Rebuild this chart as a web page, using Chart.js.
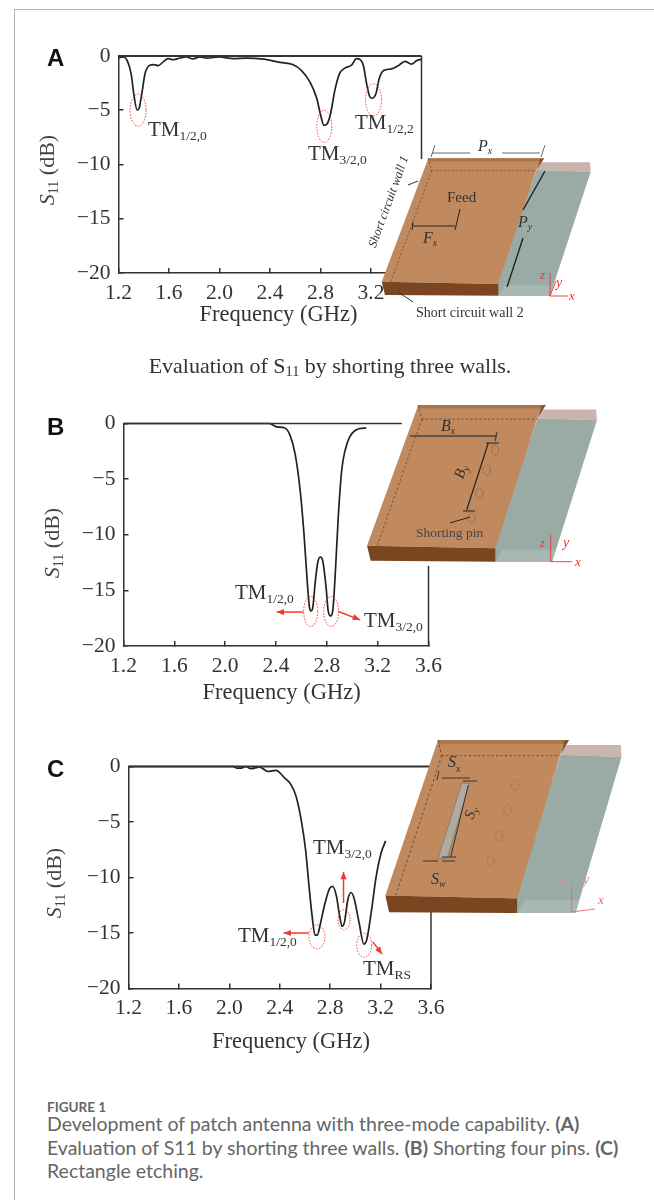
<!DOCTYPE html>
<html>
<head>
<meta charset="utf-8">
<title>Figure 1</title>
<script src="https://cdn.jsdelivr.net/npm/chart.js@4/dist/chart.umd.min.js"></script>
<style>
    html, body { margin: 0; padding: 0; background: #fff; }
    #page { position: relative; width: 654px; height: 1200px; overflow: hidden; font-family: "Liberation Serif", serif; color: #333; }
    #page canvas { position: absolute; left: 0; }
    #rule { position: absolute; left: 14px; right: 0; top: 9px; height: 1px; background: #b4b4b4; }
    #ruleLeft { position: absolute; left: 14px; top: 9px; bottom: 0; width: 1px; background: #b4b4b4; }
    .letter { position: absolute; font: bold 24px "Liberation Sans", sans-serif; color: #111; left: 47px; }
    .tm { position: absolute; font-size: 21px; line-height: 21px; white-space: nowrap; z-index: 2; }
    .tm sub, .ytitle sub { font-size: 0.64em; vertical-align: -0.3em; line-height: 0; }
    .ytitle { position: absolute; font-size: 22px; line-height: 22px; white-space: nowrap; transform: translate(-50%, -50%) rotate(-90deg); color: #444; }
    .ytitle i { font-style: italic; }
    #subcaption { position: absolute; left: 0; width: 660px; top: 354px; text-align: center; font-size: 22px; line-height: 24px; }
    #subcaption sub { font-size: 0.65em; vertical-align: -0.2em; line-height: 0; }
    #antenna { position: absolute; left: 0; top: 0; z-index: 3; }
    #antenna text { font-family: "Liberation Serif", serif; fill: #333; }
    #figlabel { position: absolute; left: 47px; top: 1099px; font: bold 13.5px Lato, sans-serif; color: #666; }
    #caption { position: absolute; left: 47px; top: 1112px; width: 600px; font: 19.5px/23.7px Lato, sans-serif; color: #666; }
</style>
</head>
<body>
<div id="page">
    <div id="rule"></div>
    <div id="ruleLeft"></div>

    <canvas id="chartA" width="460" height="310" style="top:30px"></canvas>
    <canvas id="chartB" width="460" height="320" style="top:390px"></canvas>
    <canvas id="chartC" width="460" height="320" style="top:740px"></canvas>

    <div class="letter" style="top:44px">A</div>
    <div class="letter" style="top:413px">B</div>
    <div class="letter" style="top:755px">C</div>

    <div class="ytitle" style="left:47px;top:170px"><i>S</i><sub>11</sub> (dB)</div>
    <div class="ytitle" style="left:52px;top:543px"><i>S</i><sub>11</sub> (dB)</div>
    <div class="ytitle" style="left:54px;top:883px"><i>S</i><sub>11</sub> (dB)</div>

    <div class="tm" style="left:148px;top:119px">TM<sub>1/2,0</sub></div>
    <div class="tm" style="left:308px;top:143px">TM<sub>3/2,0</sub></div>
    <div class="tm" style="left:355px;top:112px">TM<sub>1/2,2</sub></div>
    <div class="tm" style="left:235px;top:582px">TM<sub>1/2,0</sub></div>
    <div class="tm" style="left:364px;top:610px">TM<sub>3/2,0</sub></div>
    <div class="tm" style="left:313px;top:837px">TM<sub>3/2,0</sub></div>
    <div class="tm" style="left:238px;top:925px">TM<sub>1/2,0</sub></div>
    <div class="tm" style="left:363px;top:958px">TM<sub>RS</sub></div>

    <div id="subcaption">Evaluation of S<sub>11</sub> by shorting three walls.</div>

    <!-- antenna sketches sit on top of the charts, same as the figure -->
    <svg id="antenna" width="654" height="1200" viewBox="0 0 654 1200">
        <defs>
            <g id="patch">
                <polygon points="113.4,4 161.7,4 162.4,13.4 108.4,11.7" fill="#c9b5ad"/>
                <polygon points="108.4,11.7 162.4,13.4 121.7,137.4 70,137.4 68,125" fill="#9aaba5"/>
                <polygon points="76.7,127 125,127 121.7,137.4 70,137.4" fill="#a6b8b1"/>
                <polygon points="0,0 112,0 70,125.7 -46.6,123.4" fill="#c08a5e"/>
                <polygon points="0,0 112,0 112,3 0,3" fill="#a8744a"/>
                <polygon points="112,0 116,0 108.4,11.7" fill="#7f5230"/>
                <polygon points="-46.6,123.4 70,125.7 70,137.4 -43.3,136.7" fill="#7a4620"/>
                <path d="M3.3,12.4 L108,12.4 M3.3,12.4 L-38,125 M0,0 L3.3,12.4" fill="none" stroke="#5a4030" stroke-width="0.7" stroke-dasharray="2 2"/>
            </g>
        </defs>

        <!-- A -->
        <use href="#patch" transform="translate(428.3,158.3)"/>
        <path d="M431,157 L435,145 M541,157 L545,145 M432,153 L470,153 M502,153 L540,153" stroke="#444" stroke-width="0.8" fill="none"/>
        <text x="478" y="151" font-size="16" font-style="italic">P<tspan font-size="10" dy="3">x</tspan></text>
        <text x="447" y="202" font-size="15">Feed</text>
        <path d="M413,226 L455,226 M460,209 L455,230 M413,222 L412,230" stroke="#222" stroke-width="1" fill="none"/>
        <text x="423" y="243" font-size="16" font-style="italic">F<tspan font-size="10" dy="3">x</tspan></text>
        <path d="M545,171 L523,210 M523,238 L507,287" stroke="#222" stroke-width="1.4" fill="none"/>
        <text x="518" y="227" font-size="16" font-style="italic">P<tspan font-size="10" dy="3">y</tspan></text>
        <text x="392" y="203" font-size="12.5" font-style="italic" text-anchor="middle" transform="rotate(-70 392 203)">Short circuit wall 1</text>
        <path d="M408,185 L418,181" stroke="#333" stroke-width="1"/>
        <path d="M398,292 L413,302" stroke="#333" stroke-width="1"/>
        <text x="416" y="317" font-size="14" fill="#444">Short circuit wall 2</text>
        <path d="M550,273 L550,296 M550,296 L568,296 M550,296 L556,281" stroke="#e33" stroke-width="0.9" fill="none"/>
        <text x="540" y="279" font-size="13" font-style="italic" style="fill:#e33">z</text>
        <text x="556" y="287" font-size="14" font-style="italic" style="fill:#e33">y</text>
        <text x="569" y="300" font-size="13" font-style="italic" style="fill:#e33">x</text>

        <!-- B -->
        <use href="#patch" transform="translate(418.3,405) scale(1.1,1.14)"/>
        <text x="441" y="431" font-size="16" font-style="italic">B<tspan font-size="10" dy="3">x</tspan></text>
        <path d="M410,436 L497,436 M497,432 L495,441" stroke="#444" stroke-width="1.3" fill="none"/>
        <path d="M488.3,443 L466.7,510 M486,443 L499,443 M463,511 L475,511" stroke="#222" stroke-width="1.2" fill="none"/>
        <text x="465" y="473" font-size="15" font-style="italic" text-anchor="middle" transform="rotate(-72 465 473)">B<tspan font-size="10" dy="3">y</tspan></text>
        <g fill="none" stroke="#7a5a40" stroke-width="0.8" stroke-dasharray="1.5 1">
            <ellipse cx="495" cy="450" rx="3.5" ry="5"/>
            <ellipse cx="486.7" cy="470" rx="3.5" ry="5"/>
            <ellipse cx="479.3" cy="493" rx="3.5" ry="5"/>
            <ellipse cx="471.7" cy="518" rx="3.5" ry="5"/>
        </g>
        <path d="M470,517 L450,523" stroke="#222" stroke-width="1"/>
        <text x="416" y="537" font-size="13.5" style="fill:#445">Shorting pin</text>
        <path d="M550.7,535 L550.7,561.7 M550.7,561.7 L572,561.7" stroke="#e33" stroke-width="0.9" fill="none"/>
        <text x="540" y="547" font-size="13" font-style="italic" style="fill:#e33">z</text>
        <text x="563" y="547" font-size="14" font-style="italic" style="fill:#e33">y</text>
        <text x="575" y="566" font-size="13" font-style="italic" style="fill:#e33">x</text>

        <!-- C -->
        <use href="#patch" transform="translate(438,740) scale(1.13,1.26)"/>
        <text x="448" y="767" font-size="16" font-style="italic">S<tspan font-size="10" dy="5">x</tspan></text>
        <path d="M441.7,778 L470,778 M439,771 L437,780 M463,781 L477,781" stroke="#333" stroke-width="1" fill="none"/>
        <polygon points="461.7,783.3 469.3,783.3 447.3,858.3 438.3,858.3" fill="#b0aaa0" stroke="#666" stroke-width="0.5"/>
        <path d="M468.3,785 L450.7,856.7 M442,857 L456,857" stroke="#333" stroke-width="1" fill="none"/>
        <text x="475" y="814" font-size="15" font-style="italic" text-anchor="middle" transform="rotate(-72 475 814)">S<tspan font-size="10" dy="3">y</tspan></text>
        <path d="M423,861 L438,861 M442,861 L455,861" stroke="#333" stroke-width="1" fill="none"/>
        <text x="431" y="884" font-size="16" font-style="italic">S<tspan font-size="10" dy="3">w</tspan></text>
        <g fill="none" stroke="#8a6a50" stroke-width="0.8" stroke-dasharray="1.5 1">
            <ellipse cx="515" cy="785" rx="3.5" ry="5"/>
            <ellipse cx="507.3" cy="810" rx="3.5" ry="5"/>
            <ellipse cx="499.3" cy="836" rx="3.5" ry="5"/>
            <ellipse cx="490.7" cy="860.7" rx="3.5" ry="5"/>
        </g>
        <path d="M571.7,886 L571.7,912 M571.7,912 L595,909" stroke="#e66" stroke-width="0.9" fill="none"/>
        <text x="560" y="886" font-size="13" font-style="italic" style="fill:#e88">z</text>
        <text x="583" y="884" font-size="14" font-style="italic" style="fill:#e88">y</text>
        <text x="598" y="904" font-size="13" font-style="italic" style="fill:#e66">x</text>
    </svg>

    <div id="figlabel">FIGURE 1</div>
    <div id="caption">Development of patch antenna with three-mode capability. <b>(A)</b><br>Evaluation of S11 by shorting three walls. <b>(B)</b> Shorting four pins. <b>(C)</b><br>Rectangle etching.</div>
</div>

<script>
// Tick values. Panel A's 3.6 label is hidden behind the sketch in the figure
const freqTicks = [1.2, 1.6, 2.0, 2.4, 2.8, 3.2, 3.6];
const freqTicksA = [1.2, 1.6, 2.0, 2.4, 2.8, 3.2];
const dbTicks = [-20, -15, -10, -5, 0];

// Panel A
const freqA = [1.2, 1.237, 1.27, 1.3, 1.324, 1.348, 1.364, 1.385, 1.41, 1.443, 1.48, 1.514, 1.554, 1.593, 1.633, 1.67, 1.74, 1.79, 1.844, 1.9, 2.0, 2.11, 2.21, 2.35, 2.48, 2.58, 2.65, 2.716, 2.77, 2.8, 2.827, 2.85, 2.88, 2.914, 2.95, 2.99, 3.046, 3.085, 3.11, 3.14, 3.165, 3.19, 3.21, 3.24, 3.265, 3.3, 3.36, 3.415, 3.47, 3.52, 3.56, 3.6];
const s11A = [-0.15, -0.1, -0.45, -1.65, -3.75, -5.0, -4.8, -3.45, -1.65, -0.9, -0.8, -0.9, -0.55, -0.25, -0.35, -0.25, -0.1, -0.27, -0.1, -0.2, -0.1, -0.25, -0.2, -0.3, -0.6, -0.8, -1.35, -2.4, -3.9, -5.4, -6.4, -6.3, -5.3, -3.15, -1.65, -1.15, -0.85, -0.25, -0.3, -0.9, -2.55, -3.75, -3.9, -3.45, -2.1, -1.35, -1.2, -0.9, -0.5, -0.75, -0.45, -0.3];

// Panel B
const freqB = [1.2, 2.348, 2.405, 2.47, 2.51, 2.55, 2.59, 2.62, 2.647, 2.663, 2.676, 2.69, 2.71, 2.73, 2.75, 2.767, 2.794, 2.81, 2.83, 2.847, 2.865, 2.89, 2.917, 2.944, 2.98, 3.02, 3.06, 3.11];
const s11B = [0, 0, -0.3, -0.4, -1.05, -2.7, -6.0, -9.9, -14.4, -16.5, -16.85, -16.5, -14.1, -12.4, -12, -12.3, -14.7, -16.8, -17.3, -16.8, -13.8, -8.4, -4.2, -2.4, -1.2, -0.65, -0.45, -0.4];

// Panel C
const freqC = [1.2, 2.03, 2.06, 2.095, 2.13, 2.17, 2.24, 2.306, 2.37, 2.44, 2.49, 2.53, 2.57, 2.605, 2.63, 2.657, 2.68, 2.697, 2.72, 2.755, 2.795, 2.82, 2.85, 2.874, 2.895, 2.914, 2.94, 2.966, 2.99, 3.03, 3.067, 3.09, 3.125, 3.165, 3.204, 3.24];
const s11C = [0, 0, -0.15, -0.15, 0, -0.2, -0.05, -0.45, -0.35, -1.05, -1.65, -2.7, -4.8, -7.5, -10.5, -13.5, -15.2, -15.2, -14.3, -12.5, -11.0, -10.8, -11.7, -13.4, -14.4, -14, -12, -11.35, -11.9, -14.1, -16, -15.6, -13.2, -9.9, -7.8, -6.7];

// Red markers: [freq, dB, radius x px, radius y px]
const ringsA = [[1.355, -5, 8, 16], [2.83, -6.5, 7.5, 16], [3.22, -4.05, 8, 16]];
const ringsB = [[2.673, -16.9, 7, 15], [2.834, -16.9, 7.5, 15]];
const ringsC = [[2.695, -15.35, 8, 12], [2.91, -13.8, 6, 10], [3.07, -16.1, 7.5, 12]];

// Red arrows: [freq from, dB from, freq to, dB to]
const arrowsB = [[2.616, -16.95, 2.405, -16.95], [2.891, -16.9, 3.062, -17.65]];
const arrowsC = [[2.63, -15, 2.43, -15], [2.906, -12.3, 2.906, -9.5], [3.138, -15.8, 3.212, -16.9]];

const axisColor = '#333';
const tickFont = { family: '"Liberation Serif", serif', size: 21.5 };

// Top and right edges and the red markers. Chart.js has no closed-box option
// and the edges stop where the sketch covers them.
const panelExtras = {
    id: 'panelExtras',
    afterDatasetsDraw(chart, args, opts) {
        const { ctx, chartArea, scales } = chart;
        const x = scales.x, y = scales.y;

        ctx.save();
        ctx.strokeStyle = axisColor;
        ctx.lineWidth = opts.topWidth;
        ctx.beginPath();
        ctx.moveTo(chartArea.left, chartArea.top);
        ctx.lineTo(x.getPixelForValue(opts.topTo), chartArea.top);
        ctx.stroke();

        ctx.lineWidth = 1.5;
        ctx.beginPath();
        ctx.moveTo(chartArea.right, y.getPixelForValue(opts.rightSpan[0]));
        ctx.lineTo(chartArea.right, y.getPixelForValue(opts.rightSpan[1]));
        ctx.stroke();

        ctx.strokeStyle = '#ee3b30';
        ctx.lineWidth = 1;
        ctx.setLineDash([1.5, 1.5]);
        opts.rings.forEach(r => {
            ctx.beginPath();
            ctx.ellipse(x.getPixelForValue(r[0]), y.getPixelForValue(r[1]), r[2], r[3], 0, 0, Math.PI * 2);
            ctx.stroke();
        });
        ctx.setLineDash([]);

        ctx.strokeStyle = ctx.fillStyle = '#ee3b30';
        ctx.lineWidth = 1.5;
        opts.arrows.forEach(a => {
            const x1 = x.getPixelForValue(a[0]), y1 = y.getPixelForValue(a[1]);
            const x2 = x.getPixelForValue(a[2]), y2 = y.getPixelForValue(a[3]);
            const ang = Math.atan2(y2 - y1, x2 - x1);
            ctx.beginPath();
            ctx.moveTo(x1, y1);
            ctx.lineTo(x2, y2);
            ctx.stroke();
            ctx.beginPath();
            ctx.moveTo(x2, y2);
            ctx.lineTo(x2 - 8 * Math.cos(ang - 0.4), y2 - 8 * Math.sin(ang - 0.4));
            ctx.lineTo(x2 - 8 * Math.cos(ang + 0.4), y2 - 8 * Math.sin(ang + 0.4));
            ctx.closePath();
            ctx.fill();
        });
        ctx.restore();
    }
};

function makePanel(id, freq, s11, p) {
    const canvas = document.getElementById(id);
    return new Chart(canvas, {
        type: 'line',
        plugins: [panelExtras],
        data: {
            datasets: [{
                data: freq.map((f, i) => ({ x: f, y: s11[i] })),
                borderColor: '#222',
                borderWidth: 1.7,
                pointRadius: 0,
                cubicInterpolationMode: 'monotone',
                clip: false
            }]
        },
        options: {
            responsive: false,
            animation: false,
            events: [],
            layout: {
                autoPadding: false,
                padding: { top: p.top, right: canvas.width - p.right, left: 0, bottom: 0 }
            },
            plugins: {
                legend: { display: false },
                tooltip: { enabled: false },
                panelExtras: { topTo: p.topTo, topWidth: p.topWidth, rightSpan: p.rightSpan, rings: p.rings, arrows: p.arrows }
            },
            scales: {
                x: {
                    type: 'linear',
                    min: 1.2,
                    max: 3.6,
                    afterFit: s => { s.height = canvas.height - p.bottom; },
                    afterBuildTicks: s => { s.ticks = p.xTicks.map(v => ({ value: v })); },
                    border: { color: axisColor, width: 1.5 },
                    grid: { drawOnChartArea: false, color: axisColor, tickLength: -5, lineWidth: 1.5 },
                    ticks: { color: '#333', font: tickFont, padding: p.xPad, maxRotation: 0, callback: v => v.toFixed(1) },
                    title: {
                        display: true,
                        text: p.xTitle,
                        color: '#333',
                        font: { family: '"Liberation Serif", serif', size: 22.5 },
                        padding: { top: 0, bottom: p.titlePad }
                    }
                },
                y: {
                    min: -20,
                    max: 0,
                    afterFit: s => { s.width = p.left; },
                    afterBuildTicks: s => { s.ticks = dbTicks.map(v => ({ value: v })); },
                    border: { color: axisColor, width: 1.5 },
                    grid: { drawOnChartArea: false, color: axisColor, tickLength: -5, lineWidth: 1.5 },
                    ticks: { color: '#333', font: tickFont, padding: 13, callback: v => v < 0 ? '\u2212' + Math.abs(v) : String(v) }
                }
            }
        }
    });
}

makePanel('chartA', freqA, s11A, {
    left: 118.5, right: 421.5, top: 21.5, bottom: 243, xTicks: freqTicksA,
    xPad: 12, titlePad: 11, xTitle: '\u00a0\u00a0\u00a0Frequency (GHz)',
    topTo: 3.6, topWidth: 2, rightSpan: [0, -9.5],
    rings: ringsA, arrows: []
});
makePanel('chartB', freqB, s11B, {
    left: 123.5, right: 428.5, top: 33.5, bottom: 256, xTicks: freqTicks,
    xPad: 12, titlePad: 3, xTitle: '\u00a0\u00a0Frequency (GHz)',
    topTo: 3.39, topWidth: 1.5, rightSpan: [-12.8, -20],
    rings: ringsB, arrows: arrowsB
});
makePanel('chartC', freqC, s11C, {
    left: 128.5, right: 431, top: 26.5, bottom: 248.5, xTicks: freqTicks,
    xPad: 12, titlePad: 4.5, xTitle: '\u00a0\u00a0\u00a0\u00a0Frequency (GHz)',
    topTo: 3.6, topWidth: 2, rightSpan: [-12.8, -20],
    rings: ringsC, arrows: arrowsC
});
</script>
</body>
</html>
